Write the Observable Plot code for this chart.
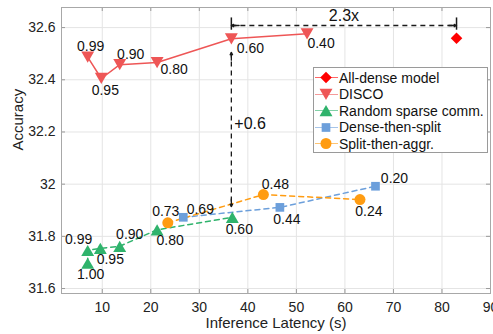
<!DOCTYPE html>
<html><head><meta charset="utf-8">
<script src="https://cdn.jsdelivr.net/npm/d3@7"></script>
<script src="https://cdn.jsdelivr.net/npm/@observablehq/plot@0.6"></script>
<style>
body{margin:0;background:#fff;}
#wrap{position:relative;width:493px;height:334px;font-family:"Liberation Sans",Arial,Helvetica,sans-serif;}
#legend{position:absolute;left:313px;top:67px;width:175px;height:86px;border:1px solid #9a9a9a;background:#fff;box-sizing:border-box;}
.row{position:absolute;left:0;height:17px;display:flex;align-items:center;font-size:14px;color:#111;white-space:nowrap;}
.row svg{display:block;margin-right:0px;}
</style></head><body><div id="wrap"></div>
<script>
// ---- data ----
const xTicks = [10, 20, 30, 40, 50, 60, 70, 80, 90];
const yTicks = [31.6, 31.8, 32, 32.2, 32.4, 32.6];

const denseLatency = [83.0];
const denseAccuracy = [32.559];

const discoLatency = [7.0, 9.8, 13.6, 21.3, 36.6, 52.2];
const discoAccuracy = [32.487, 32.405, 32.458, 32.466, 32.557, 32.576];
const discoRatios = ["0.99", "0.95", "0.90", "0.80", "0.60", "0.40"];

const randomLatency = [7.0, 7.0, 9.6, 13.6, 21.3, 36.8];
const randomAccuracy = [31.697, 31.746, 31.754, 31.762, 31.825, 31.873];
const randomRatios = ["1.00", "0.99", "0.95", "0.90", "0.80", "0.60"];

const dtsLatency = [26.7, 46.6, 66.3];
const dtsAccuracy = [31.873, 31.911, 31.992];
const dtsRatios = ["0.69", "0.44", "0.20"];

const staLatency = [23.5, 43.2, 63.1];
const staAccuracy = [31.852, 31.960, 31.941];
const staRatios = ["0.73", "0.48", "0.24"];

const xLabel = "Inference Latency (s)";
const yLabel = "Accuracy";
const speedupText = "2.3x";
const gainText = "+0.6";
const arrowY = 32.608;           // horizontal arrow level
const vArrowTop = 32.505, vArrowBottom = 31.914;
const gainTextY = 32.232;
const barY1 = 32.59, barY2 = 32.637;
const speedupTextY = 32.646;

// ---- styles (label offsets in px) ----
const discoDx = [3, 4, 11, 17, 19, 14], discoDy = [-11, 12, -10, 7, 10, 10];
const randomDx = [3, -9, 10, 10, 13, 7], randomDy = [11, -11, 11, -12, 11, 12];
const dtsDx = [17, 7, 19], dtsDy = [-8, 12, -8];
const staDx = [-2, 12, 9], staDy = [-11, -10, 12];

const C = {dense: "#ff0000", disco: "#ee5656", random: "#2fb36c", dts: "#6c9fdb", sta: "#ff9c12"};

const zip = (xs, ys, ls) => xs.map((x, i) => ({x, y: ys[i], label: ls ? ls[i] : null}));
const dense = zip(denseLatency, denseAccuracy);
const disco = zip(discoLatency, discoAccuracy, discoRatios);
const random = zip(randomLatency, randomAccuracy, randomRatios);
const dts = zip(dtsLatency, dtsAccuracy, dtsRatios);
const sta = zip(staLatency, staAccuracy, staRatios);

const W = 493, H = 334, mL = 61, mR = 3, mT = 7, mB = 41;
const iw = W - mL - mR, ih = H - mT - mB;

function labels(data, dxs, dys) {
  return data.map((d, i) => Plot.text([d], {x: "x", y: "y", text: "label", dx: dxs[i], dy: dys[i], fontSize: 14, fill: "#111"}));
}

const xKey = discoLatency[4];
const xEnd = denseLatency[0];
const headStyle = {stroke: "#1a1a1a", strokeWidth: 1.3, headLength: 7, headAngle: 55};
const chart = Plot.plot({
  width: W, height: H,
  marginLeft: mL, marginRight: mR, marginTop: mT, marginBottom: mB,
  style: {fontFamily: '"Liberation Sans", Arial, Helvetica, sans-serif', fontSize: "14px", background: "#fff", color: "#222"},
  x: {domain: [1.6, 90], ticks: xTicks},
  y: {domain: [31.581, 32.677], ticks: yTicks},
  marks: [
    Plot.gridX(xTicks, {stroke: "#e4e4e4", strokeOpacity: 1}),
    Plot.gridY(yTicks, {stroke: "#e4e4e4", strokeOpacity: 1}),
    Plot.ruleX(xTicks, {x: d => d, insetTop: ih - 4, stroke: "#999"}),
    Plot.ruleX(xTicks, {x: d => d, insetBottom: ih - 4, stroke: "#999"}),
    Plot.ruleY(yTicks, {y: d => d, insetRight: iw - 4, stroke: "#999"}),
    Plot.ruleY(yTicks, {y: d => d, insetLeft: iw - 4, stroke: "#999"}),
    Plot.frame({stroke: "#a8a8a8"}),
    Plot.axisX(xTicks, {tickSize: 0, tickPadding: 9, tickFormat: d => String(d), fontSize: 14, label: null}),
    Plot.axisY(yTicks, {tickSize: 0, tickPadding: 6, tickFormat: d => String(d), fontSize: 14, label: null}),
    Plot.text([xLabel], {frameAnchor: "bottom", lineAnchor: "middle", dy: 30, text: d => d, fontSize: 15, fill: "#222"}),
    Plot.text([yLabel], {frameAnchor: "left", dx: -43, rotate: -90, text: d => d, fontSize: 15, fill: "#222"}),
    // series lines
    Plot.line(disco, {x: "x", y: "y", stroke: C.disco, strokeWidth: 1.5}),
    Plot.line(random, {x: "x", y: "y", stroke: C.random, strokeWidth: 1.5, strokeDasharray: "5,4"}),
    Plot.line(dts, {x: "x", y: "y", stroke: C.dts, strokeWidth: 1.5, strokeDasharray: "5,4"}),
    Plot.line(sta, {x: "x", y: "y", stroke: C.sta, strokeWidth: 1.5, strokeDasharray: "5,4"}),
    // annotations
    Plot.link([{x1: xKey, x2: xEnd}], {x1: "x1", x2: "x2", y1: arrowY, y2: arrowY,
      stroke: "#1a1a1a", strokeWidth: 1.3, strokeDasharray: "5,4"}),
    Plot.arrow([{a: xKey + 1.6, b: xKey}, {a: xEnd - 1.6, b: xEnd}], {x1: "a", x2: "b", y1: arrowY, y2: arrowY, ...headStyle}),
    Plot.ruleX([xKey, xEnd], {x: d => d, y1: barY1, y2: barY2, stroke: "#1a1a1a", strokeWidth: 1.5}),
    Plot.text([speedupText], {x: (xKey + xEnd) / 2, y: speedupTextY, text: d => d, fontSize: 16, fill: "#111"}),
    Plot.link([{x: xKey}], {x1: "x", x2: "x", y1: vArrowTop, y2: vArrowBottom,
      stroke: "#1a1a1a", strokeWidth: 1.3, strokeDasharray: "5,4"}),
    Plot.arrow([{a: vArrowTop - 0.03, b: vArrowTop}, {a: vArrowBottom + 0.03, b: vArrowBottom}], {x1: xKey, x2: xKey, y1: "a", y2: "b", ...headStyle}),
    Plot.text([gainText], {x: xKey, y: gainTextY, text: d => d, dx: 3, textAnchor: "start", fontSize: 16, fill: "#111"}),
    // markers
    Plot.dot(random, {x: "x", y: "y", symbol: "triangle", r: 4.8, dy: 1.9, fill: C.random, stroke: "none"}),
    Plot.dot(dts, {x: "x", y: "y", symbol: "square", r: 4.9, fill: C.dts, stroke: "none"}),
    Plot.dot(sta, {x: "x", y: "y", symbol: "circle", r: 5.5, fill: C.sta, stroke: "none"}),
    Plot.dot(disco, {x: "x", y: "y", symbol: "triangle", r: 4.8, rotate: 180, dy: -1.9, fill: C.disco, stroke: "none"}),
    Plot.dot(dense, {x: "x", y: "y", symbol: "square", r: 4.6, rotate: 45, fill: C.dense, stroke: "none"}),
    // labels
    ...labels(disco, discoDx, discoDy),
    ...labels(random, randomDx, randomDy),
    ...labels(dts, dtsDx, dtsDy),
    ...labels(sta, staDx, staDy)
  ]
});

const wrap = document.getElementById("wrap");
wrap.appendChild(chart);

// ---- legend ----
const legendItems = [
  {name: "All-dense model", color: C.dense, sym: d3.symbolSquare, r: 4.6, rot: 45, dy: 0},
  {name: "DISCO", color: C.disco, sym: d3.symbolTriangle, r: 4.8, rot: 180, dy: -1.9},
  {name: "Random sparse comm.", color: C.random, sym: d3.symbolTriangle, r: 4.8, rot: 0, dy: 1.9},
  {name: "Dense-then-split", color: C.dts, sym: d3.symbolSquare, r: 4.9, rot: 0, dy: 0},
  {name: "Split-then-aggr.", color: C.sta, sym: d3.symbolCircle, r: 5.5, rot: 0, dy: 0}
];
const legend = document.createElement("div");
legend.id = "legend";
legendItems.forEach((it, i) => {
  const row = document.createElement("div");
  row.className = "row";
  row.style.top = (1 + i * 16.6) + "px";
  const svg = d3.create("svg").attr("width", 25).attr("height", 17);
  svg.append("line").attr("x1", 1).attr("x2", 24).attr("y1", 8.5).attr("y2", 8.5)
    .attr("stroke", it.color).attr("stroke-width", 1).attr("stroke-opacity", 0.6);
  svg.append("path").attr("d", d3.symbol(it.sym, Math.PI * it.r * it.r)())
    .attr("transform", `translate(12,${8.5 + it.dy}) rotate(${it.rot})`).attr("fill", it.color);
  row.appendChild(svg.node());
  const t = document.createElement("span");
  t.textContent = it.name;
  row.appendChild(t);
  legend.appendChild(row);
});
wrap.appendChild(legend);
</script>
</body></html>
